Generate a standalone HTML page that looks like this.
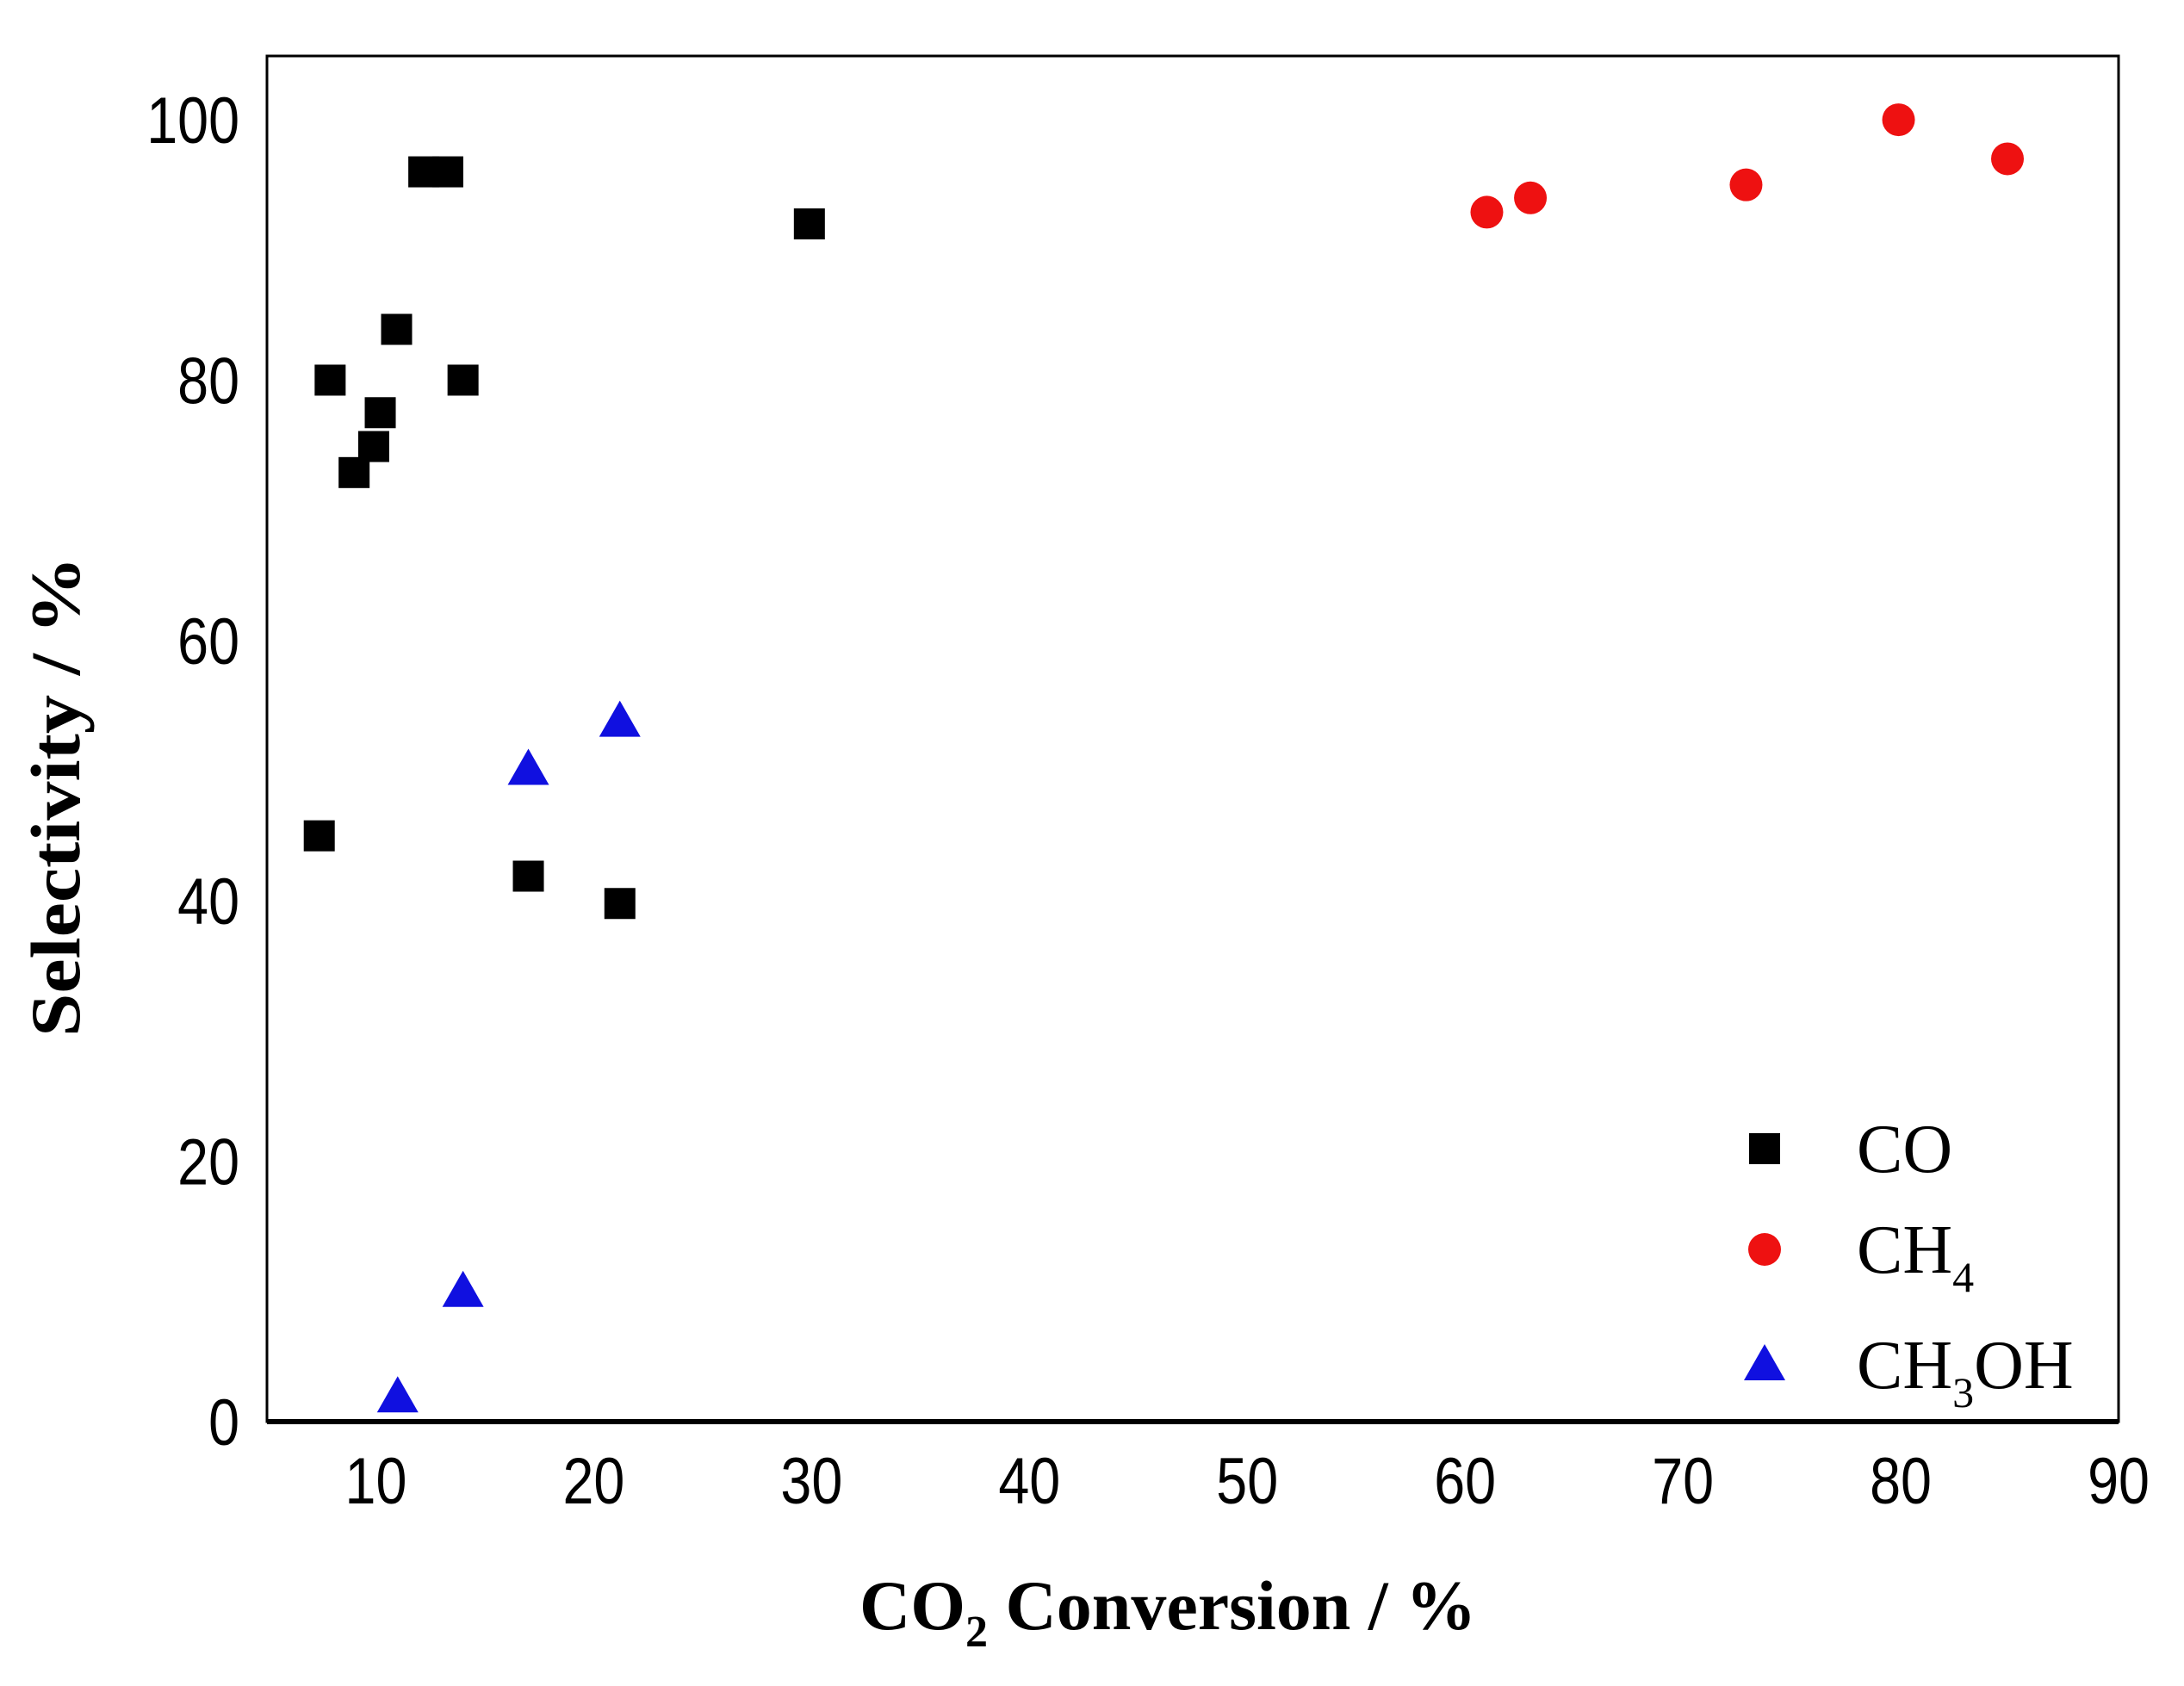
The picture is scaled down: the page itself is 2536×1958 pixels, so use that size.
<!DOCTYPE html>
<html><head><meta charset="utf-8"><style>
html,body{margin:0;padding:0;background:#fff;}
svg{display:block;}
</style></head><body>
<svg id="chart" width="2536" height="1958" viewBox="0 0 2536 1958" xmlns="http://www.w3.org/2000/svg">
<rect x="0" y="0" width="2536" height="1958" fill="#fff"/>
<g id="plot"></g>
</svg>
<script>
const xTicks=[10,20,30,40,50,60,70,80,90];
const yTicks=[0,20,40,60,80,100];
const coX=[7.4,7.9,9.0,9.9,10.2,10.95,12.2,13.3,14.0,17.0,21.2,29.9];
const coY=[45,80,72.9,74.9,77.5,83.9,96,96,80,41.9,39.8,92];
const ch4X=[61,63,72.9,79.9,84.9];
const ch4Y=[92.9,94,95,100,97];
const meohX=[11,14,17,21.2];
const meohY=[2.1,10.2,50.3,54];

const L=310,R=2460,T=65,B=1651;
const xMin=5,xMax=90,yMin=0,yMax=104.9;
function sx(v){return L+(v-xMin)/(xMax-xMin)*(R-L);}
function sy(v){return B-(v-yMin)/(yMax-yMin)*(B-T);}
const NS="http://www.w3.org/2000/svg";
const g=document.getElementById('plot');
function mk(tag,attrs,parent){const e=document.createElementNS(NS,tag);for(const k in attrs)e.setAttribute(k,attrs[k]);(parent||g).appendChild(e);return e;}

let fr=mk('rect',{x:L,y:T,width:R-L,height:B-T,fill:'none',stroke:'#000','stroke-width':3});


let xa=mk('line',{x1:L,y1:B,x2:R,y2:B,stroke:'#000','stroke-width':6});



const tickFont='"Liberation Sans", sans-serif';
xTicks.forEach(v=>{
  const t=mk('text',{x:sx(v),y:1746,'font-family':tickFont,'font-size':76,'text-anchor':'middle',transform:`translate(${sx(v)},0) scale(0.85,1) translate(${-sx(v)},0)`});
  t.textContent=v;
  
  
});
yTicks.forEach(v=>{
  const t=mk('text',{x:278,y:sy(v)+27,'font-family':tickFont,'font-size':76,'text-anchor':'end',transform:`translate(278,0) scale(0.85,1) translate(-278,0)`});
  t.textContent=v;
  
  
});

const serif='"Liberation Serif", serif';
const yl=mk('text',{x:0,y:0,'font-family':serif,'font-size':82,'font-weight':'bold','text-anchor':'middle',textLength:558,lengthAdjust:'spacingAndGlyphs',transform:'translate(92,925) rotate(-90)'});
yl.textContent='Selectivity / %';


const xl=mk('text',{x:998,y:1892,'font-family':serif,'font-size':82,'font-weight':'bold'});
xl.innerHTML='CO<tspan font-size="52" dy="20">2</tspan><tspan dy="-20"> Conversion / %</tspan>';



function square(cx,cy,name){const s=36;const e=mk('rect',{x:cx-s/2,y:cy-s/2,width:s,height:s,fill:'#000'});return e;}
function circle(cx,cy,name){const e=mk('circle',{cx:cx,cy:cy,r:19,fill:'#ee1111'});return e;}
function tri(cx,cy,name){const w=48,h=42;const e=mk('polygon',{points:`${cx},${cy-h/2} ${cx+w/2},${cy+h/2} ${cx-w/2},${cy+h/2}`,fill:'#1010e0'});return e;}

coX.forEach((x,i)=>square(sx(x),sy(coY[i]),'co-point'));
ch4X.forEach((x,i)=>circle(sx(x),sy(ch4Y[i]),'ch4-point'));
meohX.forEach((x,i)=>tri(sx(x),sy(meohY[i]),'ch3oh-point'));

// legend
square(2049,1334,'legend-co-marker');
circle(2049,1451,'legend-ch4-marker');
tri(2049,1582,'legend-ch3oh-marker');
const lt=[['CO',1334,'legend-co-label'],['CH<tspan font-size="50" dy="22">4</tspan>',1451,'legend-ch4-label'],['CH<tspan font-size="50" dy="22">3</tspan><tspan dy="-22">OH</tspan>',1585,'legend-ch3oh-label']];
lt.forEach(([h,y,n])=>{const t=mk('text',{x:2156,y:y+27,'font-family':serif,'font-size':80});t.innerHTML=h;});
</script>
</body></html>
